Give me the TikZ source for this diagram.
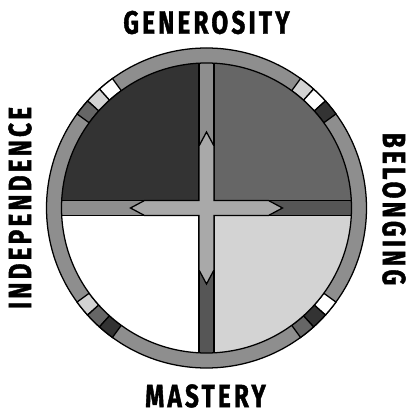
\documentclass[tikz,border=0pt]{standalone}
\usepackage{fontspec}
\usepackage{tikz}
\newfontfamily\capfont[FakeStretch=0.75,LetterSpace=10,BoldFeatures={FakeBold=1.2}]{Fira Sans}
\definecolor{ringgray}{HTML}{8E8E8E}
\definecolor{bardark}{HTML}{565656}
\definecolor{crossgray}{HTML}{A9A9A9}
\definecolor{qdark}{HTML}{333333}
\definecolor{qmid}{HTML}{666666}
\definecolor{qlight}{HTML}{D3D3D3}
\begin{document}
\begin{tikzpicture}[x=0.025cm,y=0.025cm,
  edge/.style={draw=black,line width=0.9pt},
  wordlab/.style={font=\capfont\bfseries\fontsize{23}{23}\selectfont,inner sep=0pt,anchor=center}]
\useasboundingbox (-206.5,-205) rectangle (201.5,208);
% ---- outer ring
\draw[edge,fill=ringgray] (0,0) circle (160);
\foreach \ang/\col in {129/white,135/qlight,141/qmid,51/qlight,45/white,39/qdark,
                       219/qlight,225/qmid,231/qdark,321/white,315/qdark,309/qmid}
  \draw[edge,fill=\col] (\ang-3:145) arc (\ang-3:\ang+3:145) -- (\ang+3:160)
        arc (\ang+3:\ang-3:160) -- cycle;
% ---- quadrants and bars
\begin{scope}
\clip (0,0) circle (145);
\fill[ringgray] (0,0) circle (145);
\fill[bardark] (7.5,-7.5) rectangle (170,7.5);
\fill[bardark] (-7.5,-7.5) rectangle (7.5,-170);
\draw[edge,fill=qdark] (-7.5,7.5) rectangle (-170,170);
\draw[edge,fill=qmid] (7.5,7.5) rectangle (170,170);
\draw[edge,fill=white] (-7.5,-7.5) rectangle (-170,-170);
\draw[edge,fill=qlight] (7.5,-7.5) rectangle (170,-170);
\end{scope}
\draw[edge] (0,0) circle (145);
% ---- four-way arrow
\draw[edge,fill=crossgray] (0,76) -- (7.5,62) -- (7.5,7.5) -- (62,7.5) -- (76,0)
  -- (62,-7.5) -- (7.5,-7.5) -- (7.5,-62) -- (0,-76) -- (-7.5,-62) -- (-7.5,-7.5)
  -- (-62,-7.5) -- (-76,0) -- (-62,7.5) -- (-7.5,7.5) -- (-7.5,62) -- cycle;
% ---- labels
\node[wordlab] (gen) at (0,185.5) {GENEROSITY};
\node[wordlab] (mas) at (-1,-188) {MASTERY};
\node[wordlab,rotate=-90] (bel) at (187.5,-1) {BELONGING};
\node[wordlab,rotate=90] (ind) at (-186.5,0) {INDEPENDENCE};
\end{tikzpicture}
\end{document}
